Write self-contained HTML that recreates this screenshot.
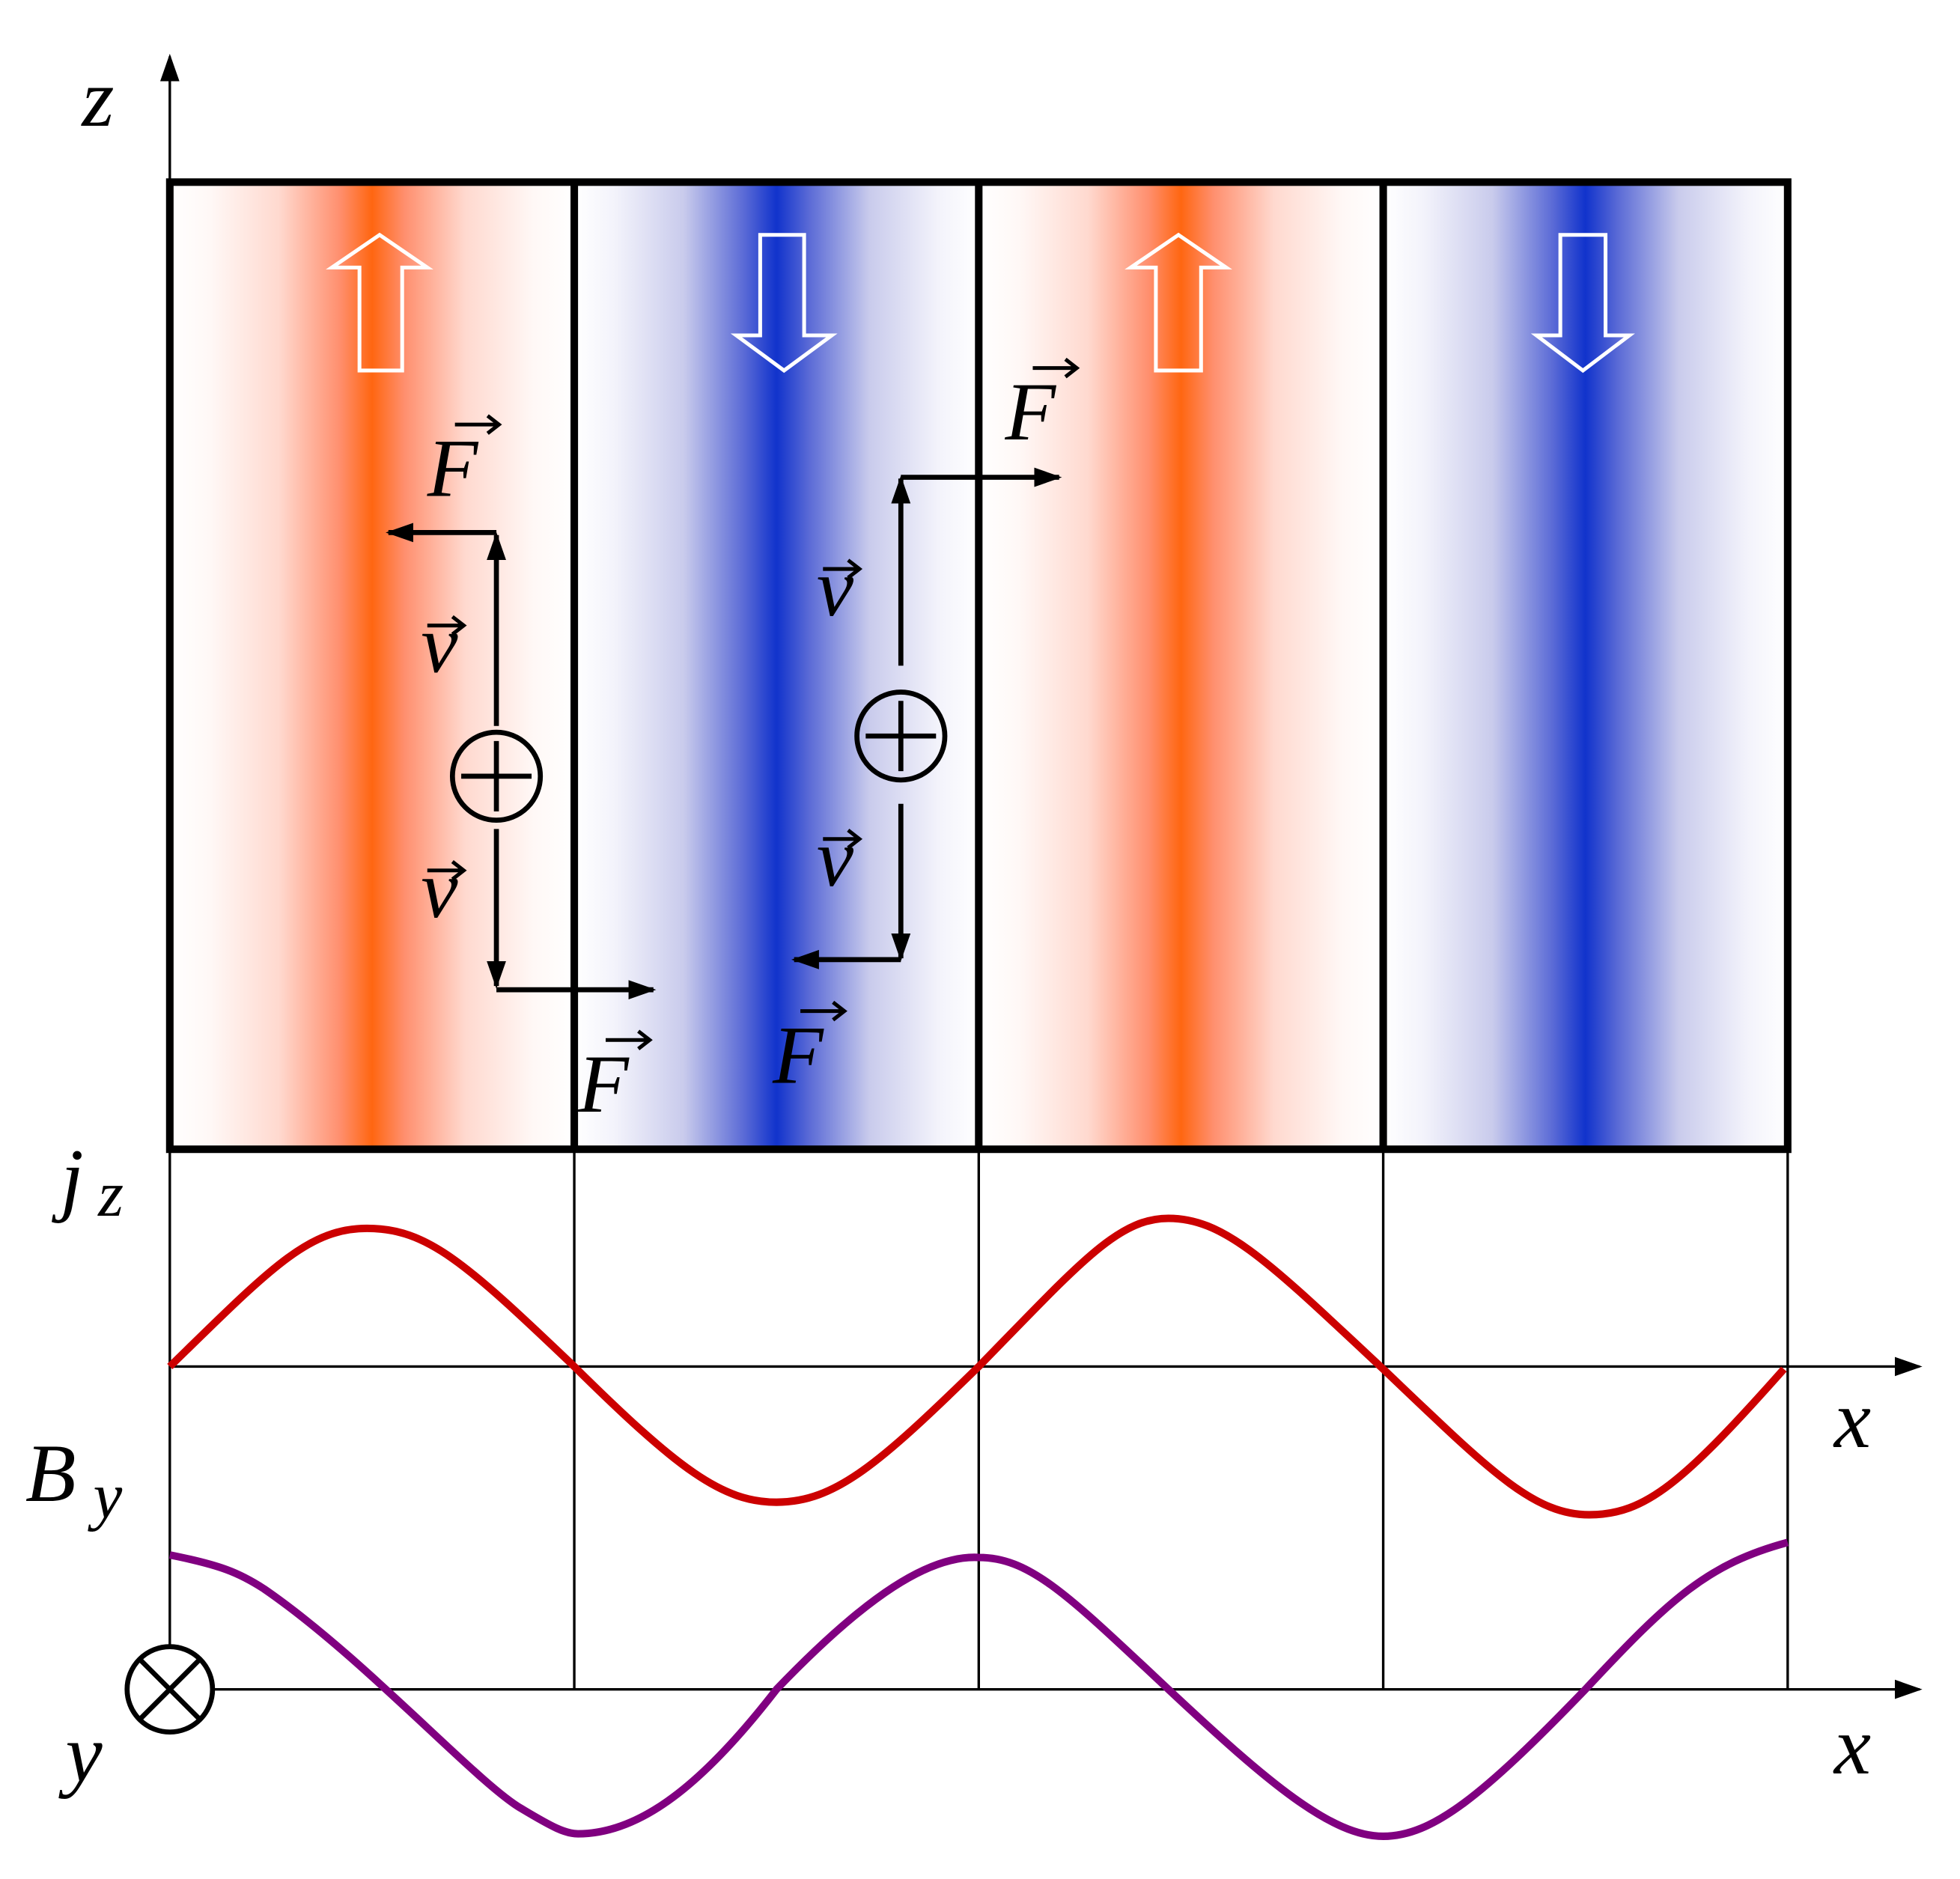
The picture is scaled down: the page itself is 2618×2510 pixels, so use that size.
<!DOCTYPE html>
<html><head><meta charset="utf-8"><style>
html,body{margin:0;padding:0;background:#fff}
svg{display:block}
text{font-family:"Liberation Serif",serif;font-style:italic;fill:#000}
</style></head><body>
<svg width="2618" height="2510" viewBox="0 0 1560 1496" xmlns="http://www.w3.org/2000/svg">
<defs>
<linearGradient id="o" x1="0" x2="1" y1="0" y2="0">
<stop offset="0" stop-color="#fff"/><stop offset="0.1" stop-color="#fff8f6"/><stop offset="0.27" stop-color="#ffd9cf"/><stop offset="0.42" stop-color="#ff8f6e"/><stop offset="0.5" stop-color="#ff6611"/><stop offset="0.58" stop-color="#ff8f6e"/><stop offset="0.73" stop-color="#ffd9cf"/><stop offset="0.9" stop-color="#fff8f6"/><stop offset="1" stop-color="#fff"/>
</linearGradient>
<linearGradient id="b" x1="0" x2="1" y1="0" y2="0">
<stop offset="0" stop-color="#fff"/><stop offset="0.1" stop-color="#f3f3fb"/><stop offset="0.27" stop-color="#c9cbec"/><stop offset="0.42" stop-color="#5a6ad6"/><stop offset="0.5" stop-color="#1133cc"/><stop offset="0.58" stop-color="#5a6ad6"/><stop offset="0.73" stop-color="#c9cbec"/><stop offset="0.9" stop-color="#f3f3fb"/><stop offset="1" stop-color="#fff"/>
</linearGradient>
<marker id="ahb" viewBox="0 0 10 10" refX="9" refY="5" markerWidth="22" markerHeight="22" markerUnits="userSpaceOnUse" orient="auto"><path d="M0,1.5L10,5L0,8.5z"/></marker>
</defs>
<rect x="135" y="145" width="322" height="770" fill="url(#o)"/>
<rect x="457" y="145" width="322" height="770" fill="url(#b)"/>
<rect x="779" y="145" width="322" height="770" fill="url(#o)"/>
<rect x="1101" y="145" width="322" height="770" fill="url(#b)"/>
<g fill="none" stroke="#fff" stroke-width="3">
<path d="M286,295V213H264L302,187L340,213H320V295Z"/>
<path d="M605,187V267H586L624,295L662,267H640V187Z"/>
<path d="M920,295V213H900L938,187L976,213H956V295Z"/>
<path d="M1242,187V267H1223L1260,295L1297,267H1278V187Z"/>
</g>
<g stroke="#000" stroke-width="6" fill="none">
<rect x="135" y="145" width="1288" height="770"/>
<line x1="457" y1="145" x2="457" y2="915"/>
<line x1="779" y1="145" x2="779" y2="915"/>
<line x1="1101" y1="145" x2="1101" y2="915"/>
</g>
<g stroke="#000" stroke-width="2" fill="none">
<line x1="457" y1="915" x2="457" y2="1345"/>
<line x1="779" y1="915" x2="779" y2="1345"/>
<line x1="1101" y1="915" x2="1101" y2="1345"/>
<line x1="1423" y1="915" x2="1423" y2="1345"/>
<line x1="135" y1="915" x2="135" y2="1310"/>
<line x1="135" y1="145" x2="135" y2="45" marker-end="url(#ahb)"/>
<line x1="135" y1="1088" x2="1528" y2="1088" marker-end="url(#ahb)"/>
<line x1="170" y1="1345" x2="1528" y2="1345" marker-end="url(#ahb)"/>
</g>
<circle cx="135" cy="1345" r="34" fill="none" stroke="#000" stroke-width="4"/>
<path d="M112,1322L158,1368M158,1322L112,1368" stroke="#000" stroke-width="4"/>
<path fill="none" stroke="#cc0000" stroke-width="6" d="M135,1088 C215,1010 245,978 292,978 C340,978 370,1005 457,1088 C540,1170 575,1196 618,1196 C665,1196 700,1165 779,1088 C860,1005 890,970 930,970 C975,970 1010,1005 1101,1090 C1185,1170 1220,1206 1265,1206 C1310,1206 1340,1180 1420,1090"/>
<path fill="none" stroke="#800080" stroke-width="6" d="M135,1238 C175,1246 190,1252 210,1265 C290,1320 380,1420 415,1440 C440,1455 450,1460 460,1460 C510,1460 560,1420 618,1345 C690,1270 740,1238 779,1240 C820,1240 850,1270 930,1345 C1010,1420 1060,1462 1101,1462 C1140,1462 1180,1430 1262,1345 C1330,1272 1360,1245 1423,1228"/>
<g stroke="#000" stroke-width="4" fill="none">
<line x1="395" y1="578" x2="395" y2="426" marker-end="url(#ahb)"/>
<line x1="395" y1="424" x2="309" y2="424" marker-end="url(#ahb)"/>
<line x1="395" y1="660" x2="395" y2="785" marker-end="url(#ahb)"/>
<line x1="395" y1="788" x2="520" y2="788" marker-end="url(#ahb)"/>
<line x1="717" y1="530" x2="717" y2="381" marker-end="url(#ahb)"/>
<line x1="717" y1="380" x2="843" y2="380" marker-end="url(#ahb)"/>
<line x1="717" y1="640" x2="717" y2="763" marker-end="url(#ahb)"/>
<line x1="717" y1="764" x2="632" y2="764" marker-end="url(#ahb)"/>
<circle cx="395" cy="618" r="35"/>
<path d="M395,590V646M367,618H423"/>
<circle cx="717" cy="586" r="35"/>
<path d="M717,558V614M689,586H745"/>
</g>
<g font-size="66">
<text x="65" y="100">z</text>
<text x="48" y="960">j</text><text x="78" y="968" font-size="52">z</text>
<text x="20" y="1195">B</text><text x="74" y="1208" font-size="52">y</text>
<text x="52" y="1418">y</text>
<text x="1460" y="1152">x</text>
<text x="1460" y="1412">x</text>
<text x="335" y="535">v</text><text x="335" y="730">v</text>
<text x="650" y="490">v</text><text x="650" y="705">v</text>
<text x="340" y="395">F</text>
<text x="460" y="885">F</text>
<text x="800" y="350">F</text>
<text x="615" y="862">F</text>
</g>
<g stroke="#000" stroke-width="3" fill="none">
<path d="M362,338H396M388,331L397,338L388,345"/>
<path d="M482,828H516M508,821L517,828L508,835"/>
<path d="M822,293H856M848,286L857,293L848,300"/>
<path d="M637,805H671M663,798L672,805L663,812"/>
<path d="M340,498H368M360,491L369,498L360,505"/>
<path d="M340,693H368M360,686L369,693L360,700"/>
<path d="M655,453H683M675,446L684,453L675,460"/>
<path d="M655,668H683M675,661L684,668L675,675"/>
</g>
</svg>
</body></html>
